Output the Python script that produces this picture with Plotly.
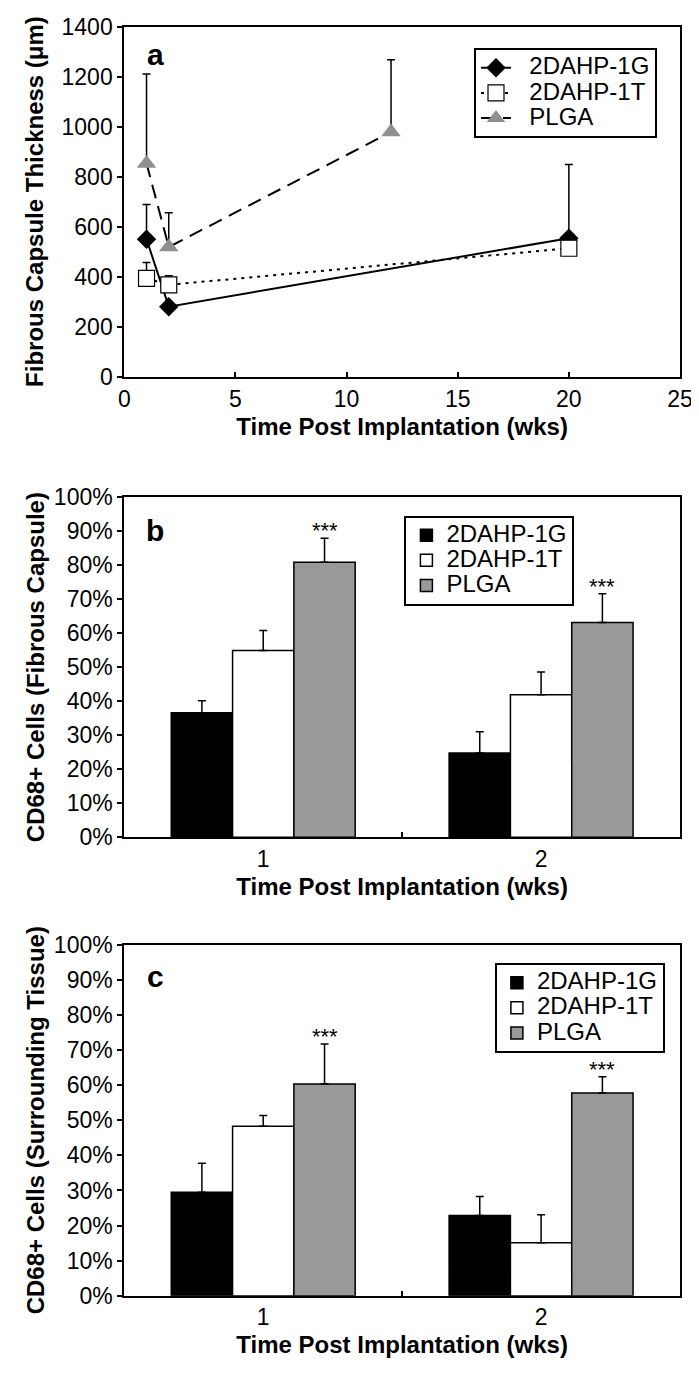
import plotly.graph_objects as go

# panel a: fibrous capsule thickness (um) vs weeks
wk_1g = [1, 2, 20]
cap_1g = [551, 282, 555]
cap_1g_err = [139, 0, 294]

wk_1t = [1, 2, 20]
cap_1t = [395, 369, 515]
cap_1t_err = [63, 36, 0]

wk_plga = [1, 2, 12]
cap_plga = [853, 520, 979]
cap_plga_err = [357, 137, 288]

# panels b, c: CD68+ cells (%)
weeks = ["1", "2"]
series = ["2DAHP-1G", "2DAHP-1T", "PLGA"]
bar_colors = ["#000000", "#ffffff", "#999999"]

fib_vals = {"2DAHP-1G": [36.6, 24.8], "2DAHP-1T": [54.9, 41.9], "PLGA": [80.8, 63.1]}
fib_err = {"2DAHP-1G": [3.5, 6.2], "2DAHP-1T": [5.9, 6.7], "PLGA": [7.1, 8.5]}

sur_vals = {"2DAHP-1G": [29.5, 22.9], "2DAHP-1T": [48.3, 15.1], "PLGA": [60.4, 57.8]}
sur_err = {"2DAHP-1G": [8.3, 5.4], "2DAHP-1T": [3.1, 8.0], "PLGA": [11.4, 4.6]}

# page body has an 8px margin, so the figure starts at (8, 8) in the window
OFF = 8
W, H = 691, 1365
FONT = "Liberation Sans, Arial, sans-serif"

def px(sx):
    return (sx - OFF) / W

def py(sy):
    return 1 - (sy - OFF) / H

def leg_name(s, pad=""):
    # big legend text but tight rows (row height follows legend font size)
    return f"<span style='font-size:24px'>{pad}{s}</span>"

fig = go.Figure()

def up_err(vals):
    return dict(type="data", symmetric=False, array=vals, arrayminus=[0] * len(vals),
                color="black", thickness=1.5, width=4)

NB = "\u00a0\u00a0"
fig.add_trace(go.Scatter(x=wk_1g, y=cap_1g, name=leg_name("2DAHP-1G", NB), mode="lines+markers",
                         line=dict(color="black", width=2),
                         marker=dict(symbol="diamond", size=15, color="black"),
                         error_y=up_err(cap_1g_err), legend="legend"))
fig.add_trace(go.Scatter(x=wk_1t, y=cap_1t, name=leg_name("2DAHP-1T", NB), mode="lines+markers",
                         line=dict(color="black", width=2, dash="3px,5px"),
                         marker=dict(symbol="square", size=16, color="white",
                                     line=dict(color="black", width=1.2)),
                         error_y=up_err(cap_1t_err), legend="legend"))
fig.add_trace(go.Scatter(x=wk_plga, y=cap_plga, name=leg_name("PLGA", NB), mode="lines+markers",
                         line=dict(color="black", width=2, dash="14px,8px"),
                         marker=dict(symbol="triangle-up", size=17, color="#8f8f8f"),
                         error_y=up_err(cap_plga_err), legend="legend"))

def add_bars(vals, errs, xa, ya, leg):
    for s, c in zip(series, bar_colors):
        fig.add_trace(go.Bar(x=weeks, y=vals[s], name=leg_name(s), marker_color=c,
                             marker_line=dict(color="black", width=1.5),
                             error_y=up_err(errs[s]), xaxis=xa, yaxis=ya, legend=leg))
    # significance stars above the PLGA bars
    for i in range(len(weeks)):
        fig.add_annotation(x=i + 0.221, y=vals["PLGA"][i] + errs["PLGA"][i],
                           xref=xa, yref=ya, text="***", showarrow=False,
                           yanchor="bottom", yshift=-7,
                           font=dict(family=FONT, size=22, color="black"))

add_bars(fib_vals, fib_err, "x2", "y2", "legend2")
add_bars(sur_vals, sur_err, "x3", "y3", "legend3")

xdom = [px(124.3), px(680)]
def ydom(top, bottom):
    return [py(bottom), py(top)]

tickfont = dict(family=FONT, size=23, color="black")
titlefont = dict(family=FONT, size=24, color="black", weight="bold")
axcommon = dict(showline=True, linecolor="black", linewidth=2, mirror=True,
                showgrid=False, zeroline=False, tickfont=tickfont,
                ticklen=5, tickcolor="black", tickwidth=1.5, automargin=False,
                ticklabeloverflow="allow")

xtitle = dict(text="Time Post Implantation (wks)", font=titlefont, standoff=7)

legcommon = dict(bordercolor="black", borderwidth=2, bgcolor="white",
                 font=dict(family=FONT, size=17, color="black"),
                 xanchor="left", yanchor="top", tracegroupgap=0)

fig.update_layout(
    width=W, height=H, margin=dict(l=0, r=0, t=0, b=0),
    paper_bgcolor="white", plot_bgcolor="white",
    barmode="group", bargap=0.338, bargroupgap=0,
    xaxis=dict(domain=xdom, anchor="y", range=[0, 25], dtick=5, ticks="inside",
               title=xtitle, **axcommon),
    yaxis=dict(domain=ydom(26.5, 377.3), anchor="x", range=[0, 1400], dtick=200,
               ticks="outside", **axcommon),
    xaxis2=dict(domain=xdom, anchor="y2", ticks="inside", tickson="boundaries",
                title=xtitle, **axcommon),
    yaxis2=dict(domain=ydom(497, 837.3), anchor="x2", range=[0, 100], dtick=10,
                ticksuffix="%", ticks="outside", **axcommon),
    xaxis3=dict(domain=xdom, anchor="y3", ticks="inside", tickson="boundaries",
                title=xtitle, **axcommon),
    yaxis3=dict(domain=ydom(945, 1295.7), anchor="x3", range=[0, 100], dtick=10,
                ticksuffix="%", ticks="outside", **axcommon),
    legend=dict(x=px(474), y=py(48.3), **legcommon),
    legend2=dict(x=px(404.4), y=py(515.7), **legcommon),
    legend3=dict(x=px(494.9), y=py(963.2), **legcommon),
)

# rotated y-axis titles and panel letters
ytitles = [("Fibrous Capsule Thickness (\u03bcm)", 26.5, 377.3),
           ("CD68+ Cells (Fibrous Capsule)", 497, 837.3),
           ("CD68+ Cells (Surrounding Tissue)", 945, 1295.7)]
for txt, top, bot in ytitles:
    fig.add_annotation(x=px(35), y=py((top + bot) / 2), xref="paper", yref="paper",
                       text=txt, textangle=-90, showarrow=False,
                       font=titlefont, xanchor="center", yanchor="middle")

for letter, ypx in [("a", 55), ("b", 530), ("c", 976)]:
    fig.add_annotation(x=px(155), y=py(ypx), xref="paper", yref="paper",
                       text=letter, showarrow=False, xanchor="center", yanchor="middle",
                       font=dict(family=FONT, size=30, color="black", weight="bold"))

fig.write_html("out.html")
